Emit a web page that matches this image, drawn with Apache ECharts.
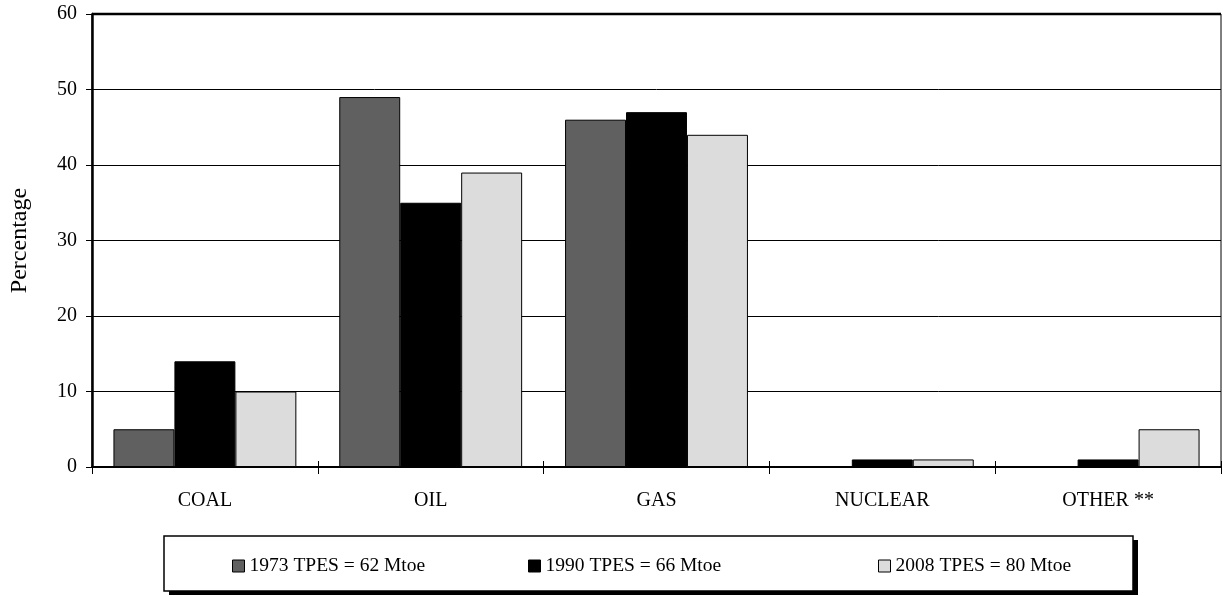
<!DOCTYPE html>
<html><head><meta charset="utf-8">
<script src="https://cdn.jsdelivr.net/npm/echarts@6/dist/echarts.min.js"></script>
<style>html,body{margin:0;padding:0;background:#fff}#c{width:1223px;height:596px}</style>
</head><body><div id="c"></div>
<script>
const categories = ['COAL', 'OIL', 'GAS', 'NUCLEAR', 'OTHER **'];
const s1973 = [5, 49, 46, 0, 0];
const s1990 = [14, 35, 47, 1, 1];
const s2008 = [10, 39, 44, 1, 5];
const seriesNames = ['1973 TPES = 62 Mtoe', '1990 TPES = 66 Mtoe', '2008 TPES = 80 Mtoe'];
const yTicks = [0, 10, 20, 30, 40, 50, 60];

const font = 'Liberation Serif';
const colors = ['#606060', '#000000', '#dcdcdc'];
const chart = echarts.init(document.getElementById('c'));
function mk(name, data, color) {
  return {
    name, type: 'bar', data, barGap: '0%', barCategoryGap: '19%',
    itemStyle: { color, borderColor: '#000', borderWidth: 1 },
    emphasis: { disabled: true }, animation: false
  };
}
const legendBase = {
  top: 556, itemWidth: 12, itemHeight: 12, itemGap: 4,
  textStyle: { fontFamily: font, fontSize: 19.5, color: '#000' },
  icon: 'rect', itemStyle: { borderColor: '#000', borderWidth: 1 }, padding: 0, z: 5
};
chart.setOption({
  animation: false,
  grid: { left: 92, right: 2, top: 14, bottom: 129, show: true, borderColor: '#000', borderWidth: 1, backgroundColor: 'transparent' },
  graphic: [
    { type: 'rect', shape: { x: 169, y: 540, width: 969, height: 55 }, style: { fill: '#000' }, z: 0 },
    { type: 'rect', shape: { x: 164, y: 536, width: 969, height: 55 }, style: { fill: '#fff', stroke: '#000', lineWidth: 1.5 }, z: 1 },
    { type: 'line', shape: { x1: 92, y1: 14, x2: 1221, y2: 14 }, style: { stroke: '#000', lineWidth: 2.5 }, z: 10 }
  ],
  legend: [
    Object.assign({}, legendBase, { left: 232, data: [seriesNames[0]] }),
    Object.assign({}, legendBase, { left: 528, data: [seriesNames[1]] }),
    Object.assign({}, legendBase, { left: 878, data: [seriesNames[2]] })
  ],
  xAxis: [{
    type: 'category', data: categories,
    axisLine: { lineStyle: { color: '#000', width: 2 } },
    axisTick: { show: true, length: 7, lineStyle: { color: '#000', width: 1 } },
    axisLabel: { fontFamily: font, fontSize: 20, color: '#000', margin: 24 }
  }, {
    type: 'category', data: categories, position: 'bottom',
    axisLine: { show: false },
    axisTick: { show: true, inside: true, length: 6, lineStyle: { color: '#000', width: 1 } },
    axisLabel: { show: false }
  }],
  yAxis: {
    type: 'value', min: 0, max: 60, interval: 10,
    name: 'Percentage', nameLocation: 'middle', nameGap: 60,
    nameTextStyle: { fontFamily: font, fontSize: 24, color: '#000' },
    axisLine: { show: true, lineStyle: { color: '#000', width: 2.5 } },
    axisTick: { show: true, length: 6, lineStyle: { color: '#000' } },
    axisLabel: { fontFamily: font, fontSize: 20, color: '#000', margin: 15,
      formatter: v => yTicks.includes(v) ? String(v) : '' },
    splitLine: { show: true, lineStyle: { color: '#000', width: 1 } }
  },
  series: [mk(seriesNames[0], s1973, colors[0]), mk(seriesNames[1], s1990, colors[1]), mk(seriesNames[2], s2008, colors[2])]
});
</script></body></html>
